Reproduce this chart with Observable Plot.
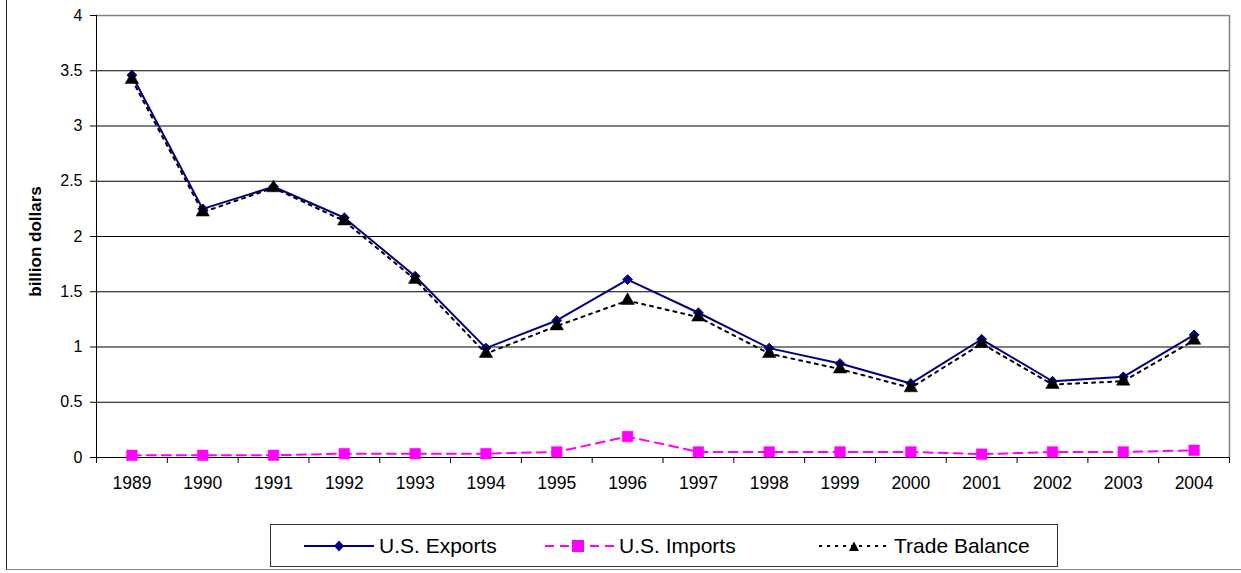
<!DOCTYPE html>
<html>
<head>
<meta charset="utf-8">
<script src="https://cdn.jsdelivr.net/npm/d3@7"></script>
<script src="https://cdn.jsdelivr.net/npm/@observablehq/plot@0.6"></script>
<style>
  html, body { margin: 0; padding: 0; background: #fff; }
  body { width: 1241px; height: 573px; position: relative; overflow: hidden; font-family: "Liberation Sans", Arial, sans-serif; }
  #outer { position: absolute; left: 6px; top: -2px; width: 1300px; height: 572px; border-left: 1px solid #222; border-bottom: 1px solid #808080; box-sizing: border-box; }
  #chart { position: absolute; left: 0; top: 0; }
  #legend { position: absolute; left: 270px; top: 524px; width: 788px; height: 43px; border: 1px solid #333; box-sizing: border-box; background: #fff; }
  .item { position: absolute; top: 0; height: 41px; display: flex; align-items: center; font-size: 21px; color: #000; white-space: nowrap; }
  .item svg { display: block; margin-right: 5px; }
</style>
</head>
<body>
<div id="outer"></div>
<div id="chart"></div>
<div id="legend"></div>
<script>
const years = [1989, 1990, 1991, 1992, 1993, 1994, 1995, 1996, 1997, 1998, 1999, 2000, 2001, 2002, 2003, 2004];
const usExports = [3.46, 2.25, 2.45, 2.17, 1.64, 0.99, 1.24, 1.61, 1.31, 0.99, 0.85, 0.67, 1.07, 0.69, 0.73, 1.11];
const usImports = [0.02, 0.02, 0.02, 0.035, 0.035, 0.035, 0.05, 0.19, 0.05, 0.05, 0.05, 0.05, 0.03, 0.05, 0.05, 0.065];
const tradeBalance = [3.42, 2.22, 2.44, 2.14, 1.61, 0.94, 1.19, 1.42, 1.27, 0.94, 0.80, 0.63, 1.03, 0.66, 0.69, 1.06];
const yTicks = [0, 0.5, 1, 1.5, 2, 2.5, 3, 3.5, 4];
const seriesNames = ["U.S. Exports", "U.S. Imports", "Trade Balance"];
const yLabel = "billion dollars";

const data = years.map((year, i) => ({year, exp: usExports[i], imp: usImports[i], bal: tradeBalance[i]}));
const xMin = years[0] - 0.5, xMax = years[years.length - 1] + 0.5;
const boundaries = [xMin, ...years.map(y => y + 0.5)];

const chart = Plot.plot({
  width: 1241,
  height: 510,
  marginLeft: 96,
  marginRight: 12,
  marginTop: 15,
  marginBottom: 53,
  style: {fontFamily: "'Liberation Sans', Arial, sans-serif", color: "#000", background: "transparent", overflow: "visible"},
  x: {type: "linear", domain: [xMin, xMax]},
  y: {domain: [0, 4]},
  marks: [
    Plot.gridY(yTicks.filter(t => t > 0 && t < 4), {stroke: "#000", strokeOpacity: 1}),
    Plot.ruleY([4], {stroke: "#808080", strokeWidth: 1.5}),
    Plot.ruleX([xMax], {stroke: "#808080", strokeWidth: 1.5}),
    Plot.ruleX([xMin], {stroke: "#000"}),
    Plot.ruleY([0], {stroke: "#000"}),
    Plot.axisY(yTicks, {tickSize: 6, tickPadding: 8, tickFormat: d => String(d), fontSize: 16, label: null, stroke: "#000"}),
    Plot.axisX(boundaries, {tickSize: 6, tickFormat: () => "", label: null, stroke: "#000"}),
    Plot.axisX(years, {tickSize: 0, tickPadding: 19, tickFormat: d => String(d), fontSize: 17.5, label: null}),
    Plot.text([yLabel], {text: d => d, frameAnchor: "left", textAnchor: "middle", rotate: -90, dx: -56, dy: 5, lineAnchor: "bottom", fontWeight: "bold", fontSize: 17, fill: "#000"}),
    Plot.line(data, {x: "year", y: "exp", stroke: "#000080", strokeWidth: 2}),
    Plot.dot(data, {x: "year", y: "exp", symbol: "diamond2", r: 4.4, fill: "#000080", stroke: "#000080", strokeWidth: 1}),
    Plot.line(data, {x: "year", y: "imp", stroke: "#FF00FF", strokeWidth: 2, strokeDasharray: "9,6"}),
    Plot.dot(data, {x: "year", y: "imp", symbol: "square", r: 6, fill: "#FF00FF", stroke: "#FF00FF", strokeWidth: 0.5}),
    Plot.line(data, {x: "year", y: "bal", stroke: "#000", strokeWidth: 2, strokeDasharray: "3,5"}),
    Plot.dot(data, {x: "year", y: "bal", symbol: "triangle", r: 5, fill: "#000", stroke: "#000", strokeWidth: 0.5})
  ]
});
document.getElementById("chart").appendChild(chart);

// Legend
const legend = document.getElementById("legend");
const itemLeft = [33, 273, 548];
const swatches = [
  `<svg width="70" height="20"><line x1="0" y1="10" x2="70" y2="10" stroke="#000080" stroke-width="2"/><path d="M35,4.5 L40,10 L35,15.5 L30,10 Z" fill="#000080"/></svg>`,
  `<svg width="70" height="20"><line x1="0" y1="10" x2="70" y2="10" stroke="#FF00FF" stroke-width="2" stroke-dasharray="9,6" stroke-dashoffset="-1"/><rect x="28" y="4" width="12" height="12" fill="#FF00FF"/></svg>`,
  `<svg width="70" height="20"><line x1="0" y1="10" x2="70" y2="10" stroke="#000" stroke-width="2" stroke-dasharray="3,5"/><path d="M30,15 L35,5.5 L40,15 Z" fill="#000"/></svg>`
];
seriesNames.forEach((name, i) => {
  const div = document.createElement("div");
  div.className = "item";
  div.style.left = itemLeft[i] + "px";
  div.innerHTML = swatches[i] + `<span>${name}</span>`;
  legend.appendChild(div);
});
</script>
</body>
</html>
